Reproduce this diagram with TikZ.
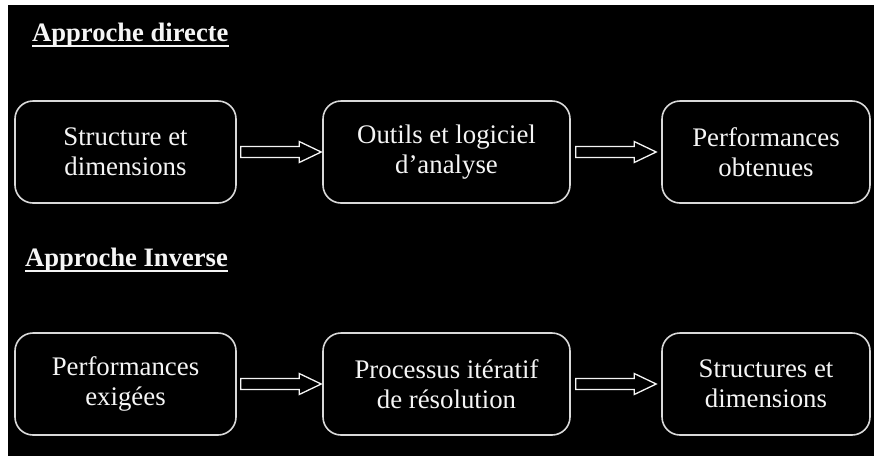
\documentclass[tikz,border=0pt]{standalone}
\usepackage{fontspec}
\setmainfont{Liberation Serif}
\usetikzlibrary{calc}
\definecolor{boxgray}{gray}{0.85}
\definecolor{txtwhite}{gray}{0.96}
\newcommand\blockarr[4]{%
  \draw[barrow] let \p1=($(#1.east)+(#3,0)$), \p2=($(#2.west)-(#4,0)$) in
    (\x1,\y1+5.5pt) -- (\x2-22pt,\y1+5.5pt) -- (\x2-22pt,\y1+10.5pt) -- (\x2,\y1)
    -- (\x2-22pt,\y1-10.5pt) -- (\x2-22pt,\y1-5.5pt) -- (\x1,\y1-5.5pt) -- cycle;}
\begin{document}
\begin{tikzpicture}[x=1pt,y=-1pt,
  box/.style={draw=boxgray, line width=1.6pt, rounded corners=18pt,
    minimum width=#1, minimum height=102pt, inner sep=0pt, align=center,
    text=txtwhite, font=\fontsize{26.8}{30}\selectfont},
  title/.style={anchor=base west, inner sep=0pt, text=txtwhite,
    font=\fontsize{26.6}{30}\selectfont\bfseries},
  uline/.style={draw=txtwhite, line width=2pt},
  barrow/.style={draw=txtwhite, line width=1.3pt, line join=miter}]
\useasboundingbox (0,0) rectangle (874,456);
\fill[white] (0,0) rectangle (874,456);
\fill[black] (8,5) rectangle (874,456);

\node[title] (t1) at (32,41) {Approche directe};
\draw[uline] ($(t1.base west)+(0,5)$) -- ($(t1.base east)+(0,5)$);
\node[title] (t2) at (25,266) {Approche Inverse};
\draw[uline] ($(t2.base west)+(0,5)$) -- ($(t2.base east)+(0,5)$);

\node[box=221pt] (a1) at (125.5,152) {Structure et\\dimensions};
\node[box=247pt] (a2) at (446.5,152) {Outils et logiciel\\d’analyse};
\node[box=208pt] (a3) at (766,152) {Performances\\obtenues};

\node[box=221pt] (b1) at (125.5,384) {Performances\\exigées};
\node[box=247pt] (b2) at (446.5,384) {Processus itératif\\de résolution};
\node[box=208pt] (b3) at (766,384) {Structures et\\dimensions};

\blockarr{a1}{a2}{4}{1}
\blockarr{a2}{a3}{5}{5}
\blockarr{b1}{b2}{4}{1}
\blockarr{b2}{b3}{5}{5}
\end{tikzpicture}
\end{document}
